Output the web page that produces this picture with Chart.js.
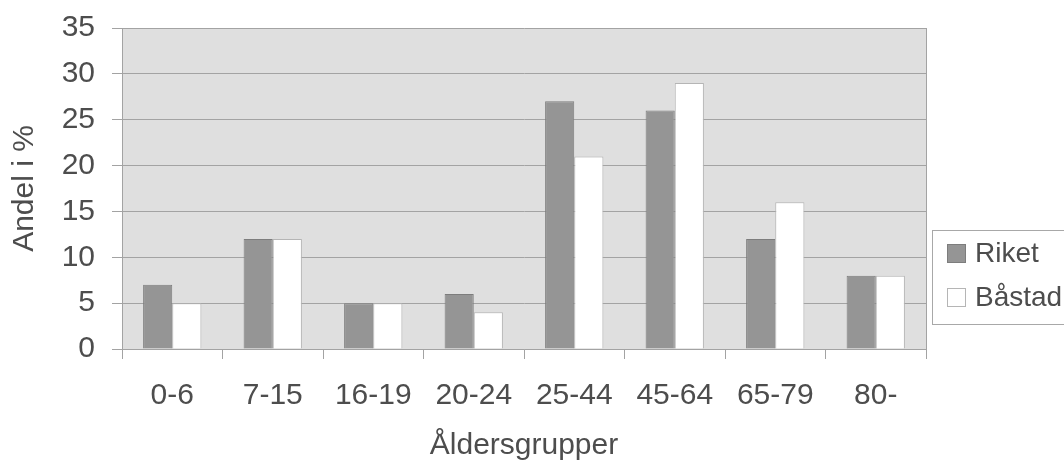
<!DOCTYPE html>
<html>
<head>
<meta charset="utf-8">
<script src="https://cdn.jsdelivr.net/npm/chart.js@4/dist/chart.umd.min.js"></script>
<style>
  html, body { margin: 0; padding: 0; background: #ffffff; }
  #wrap { width: 1064px; height: 461px; }
</style>
</head>
<body>
<div id="wrap"><canvas id="age-chart" width="1064" height="461"></canvas></div>
<script>
const AGE_GROUPS = ['0-6', '7-15', '16-19', '20-24', '25-44', '45-64', '65-79', '80-'];
const RIKET = [7, 12, 5, 6, 27, 26, 12, 8];
const BASTAD = [5, 12, 5, 4, 21, 29, 16, 8];
const Y_TICKS = [0, 5, 10, 15, 20, 25, 30, 35];

const textColor = '#4d4d4d';
const gridColor = '#a3a3a3';
const font = 'Liberation Sans, Arial, sans-serif';

// grey plot background + right frame line
const plotBg = {
  id: 'plotBg',
  beforeDraw(chart) {
    const { ctx, chartArea: a } = chart;
    ctx.save();
    ctx.fillStyle = '#dfdfdf';
    ctx.fillRect(a.left, a.top, a.right - a.left, a.bottom - a.top);
    ctx.restore();
  },
  afterDatasetsDraw(chart) {
    const { ctx, chartArea: a } = chart;
    ctx.save();
    ctx.strokeStyle = gridColor;
    ctx.lineWidth = 1;
    ctx.beginPath();
    ctx.moveTo(Math.round(a.right) + 0.5, a.top);
    ctx.lineTo(Math.round(a.right) + 0.5, a.bottom);
    ctx.stroke();
    ctx.restore();
  },
};

// boxed legend at the right, partly cut by the canvas edge
const boxLegend = {
  id: 'boxLegend',
  afterDraw(chart) {
    const { ctx } = chart;
    ctx.save();
    ctx.strokeStyle = '#a8a8a8';
    ctx.lineWidth = 1;
    ctx.strokeRect(932.5, 230.5, 150, 94);
    ctx.font = '28px ' + font;
    ctx.textBaseline = 'middle';
    ctx.fillStyle = textColor;
    const rows = [254, 298];
    chart.data.datasets.forEach((ds, i) => {
      const cy = rows[i];
      ctx.fillStyle = ds.backgroundColor;
      ctx.fillRect(947, cy - 10, 19, 19);
      ctx.strokeStyle = ds.borderColor;
      ctx.strokeRect(947.5, cy - 9.5, 18, 18);
      ctx.fillStyle = textColor;
      ctx.fillText(ds.label, 975, cy);
    });
    ctx.restore();
  },
};

new Chart(document.getElementById('age-chart'), {
  type: 'bar',
  data: {
    labels: AGE_GROUPS,
    datasets: [
      {
        label: 'Riket',
        data: RIKET,
        backgroundColor: '#959595',
        borderColor: '#7d7d7d',
        borderWidth: 1,
        categoryPercentage: 0.58,
        barPercentage: 1,
      },
      {
        label: 'Båstad',
        data: BASTAD,
        backgroundColor: '#ffffff',
        borderColor: '#b5b5b5',
        borderWidth: 1,
        categoryPercentage: 0.58,
        barPercentage: 1,
      },
    ],
  },
  options: {
    responsive: false,
    animation: false,
    layout: { padding: { top: 28, right: 138, bottom: 0, left: 0 } },
    plugins: {
      legend: { display: false },
      tooltip: { enabled: false },
    },
    scales: {
      x: {
        grid: {
          offset: true,
          drawOnChartArea: false,
          drawTicks: true,
          tickLength: 10,
          color: gridColor,
        },
        border: { display: true, color: gridColor },
        ticks: { color: textColor, padding: 19, font: { family: font, size: 30 } },
        title: {
          display: true,
          text: 'Åldersgrupper',
          color: textColor,
          padding: 0,
          font: { family: font, size: 30, lineHeight: 1 },
        },
        afterFit(scale) {
          scale.height = 112;
          scale.paddingLeft = 0;
          scale.paddingRight = 0;
        },
      },
      y: {
        min: 0,
        max: 35,
        afterBuildTicks(scale) { scale.ticks = Y_TICKS.map((v) => ({ value: v })); },
        grid: { color: gridColor, tickLength: 10 },
        border: { display: true, color: gridColor },
        ticks: { color: textColor, padding: 17, font: { family: font, size: 30 } },
        title: {
          display: true,
          text: 'Andel i %',
          color: textColor,
          padding: { top: 7, bottom: 0 },
          font: { family: font, size: 30 },
        },
        afterFit(scale) {
          scale.width = 122;
          scale.paddingTop = 0;
          scale.paddingBottom = 0;
        },
      },
    },
  },
  plugins: [plotBg, boxLegend],
});
</script>
</body>
</html>
